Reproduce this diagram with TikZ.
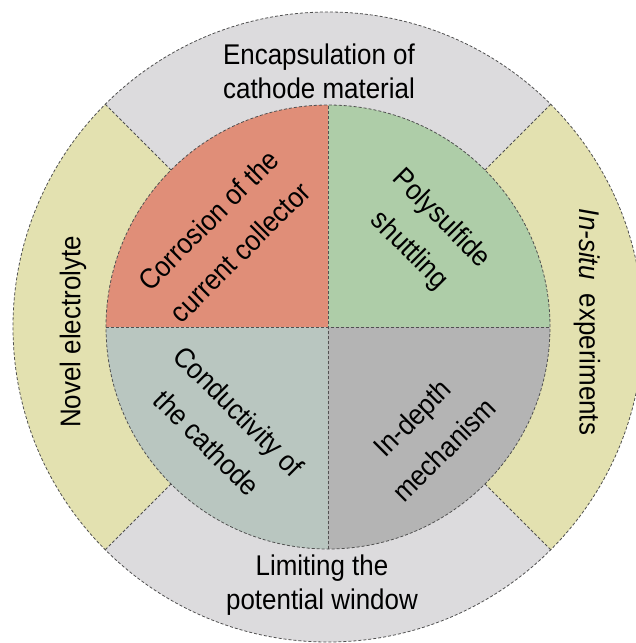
\documentclass[tikz,border=0pt]{standalone}
\usepackage{fontspec}
\setmainfont{Liberation Sans}[FakeStretch=0.91]
\usepackage{tikz}
\usetikzlibrary{calc}
\definecolor{ringgray}{RGB}{220,219,221}
\definecolor{ringyellow}{RGB}{227,225,176}
\definecolor{quadred}{RGB}{224,142,120}
\definecolor{quadgreen}{RGB}{174,205,168}
\definecolor{quadslate}{RGB}{185,198,192}
\definecolor{quadgray}{RGB}{180,180,180}
\definecolor{dashgray}{RGB}{80,80,80}
\tikzset{
  divider/.style={draw=dashgray, line width=0.8pt, dash pattern=on 3pt off 2pt},
  areatext/.style={align=center, font=\fontsize{28.5}{34}\selectfont, inner sep=0pt},
  quadtext/.style={areatext, font=\fontsize{28.5}{45}\selectfont}
}

\begin{document}
\begin{tikzpicture}[x=1pt, y=1pt]
		\useasboundingbox (-328,-316) rectangle (308,327);
		% outer ring
		\fill [ringgray] (0,0) -- (45:315) arc [start angle=45, end angle=135, radius=315pt] -- cycle;
		\fill [ringyellow] (0,0) -- (135:315) arc [start angle=135, end angle=225, radius=315pt] -- cycle;
		\fill [ringgray] (0,0) -- (225:315) arc [start angle=225, end angle=315, radius=315pt] -- cycle;
		\fill [ringyellow] (0,0) -- (315:315) arc [start angle=315, end angle=405, radius=315pt] -- cycle;
		\draw [divider] (0,0) circle [radius=315pt];
		\foreach \ang in {45,135,225,315}
			\draw [divider] (\ang:222) -- (\ang:315);
		% inner quadrants
		\fill [quadgreen] (0,0) -- (0:222) arc [start angle=0, end angle=90, radius=222pt] -- cycle;
		\fill [quadred] (0,0) -- (90:222) arc [start angle=90, end angle=180, radius=222pt] -- cycle;
		\fill [quadslate] (0,0) -- (180:222) arc [start angle=180, end angle=270, radius=222pt] -- cycle;
		\fill [quadgray] (0,0) -- (270:222) arc [start angle=270, end angle=360, radius=222pt] -- cycle;
		\draw [divider] (0,0) circle [radius=222pt];
		\draw [divider] (-222,0) -- (222,0);
		\draw [divider] (0,-222) -- (0,222);
		% ring texts
		\node (encap) [areatext] at (-9,256) {Encapsulation of\\cathode material};
		\node (limit) [areatext] at (-6,-258) {Limiting the\\potential window};
		\node (novel) [areatext, rotate=90] at (-255,-5) {Novel electrolyte};
		\node (insitu) [areatext, rotate=-90] at (259,5) {\textit{In-situ}\ \ experiments};
		% quadrant texts
		\node (corrosion) [quadtext, rotate=45] at (-104,91) {Corrosion of the\\current collector};
		\node (polysulfide) [quadtext, rotate=-45] at (97,92) {Polysulfide\\shuttling};
		\node (conductivity) [quadtext, rotate=-45] at (-105,-100) {Conductivity of\\the cathode};
		\node (indepth) [quadtext, rotate=45] at (100,-107) {In-depth\\mechanism};
	\end{tikzpicture}
\end{document}
